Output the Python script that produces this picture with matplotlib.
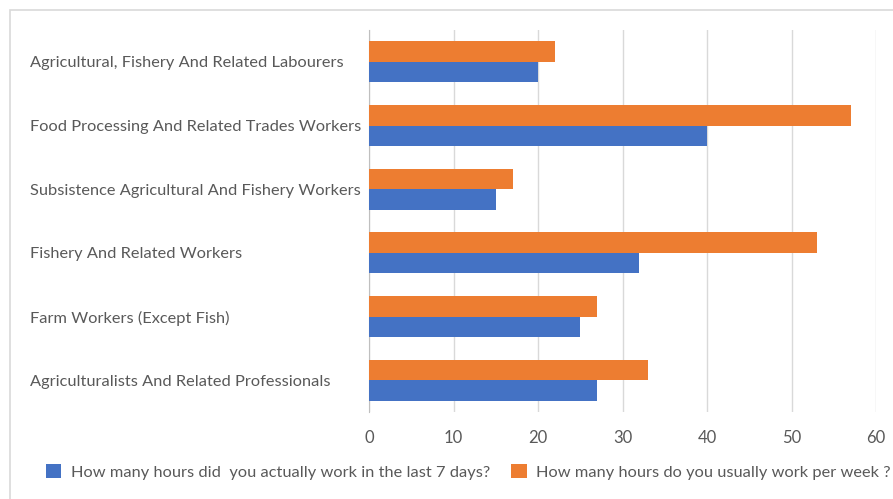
import numpy as np
import matplotlib.pyplot as plt
from matplotlib.patches import Rectangle

plt.rcParams['font.family'] = ['Lato', 'DejaVu Sans']

categories = [
    "Agriculturalists And Related Professionals",
    "Farm Workers (Except Fish)",
    "Fishery And Related Workers",
    "Subsistence Agricultural And Fishery Workers",
    "Food Processing And Related Trades Workers",
    "Agricultural, Fishery And Related Labourers",
]
actual_hours = [27, 25, 32, 15, 40, 20]
usual_hours = [33, 27, 53, 17, 57, 22]
series_names = [
    "How many hours did  you actually work in the last 7 days?",
    "How many hours do you usually work per week ?",
]
xticks = [0, 10, 20, 30, 40, 50, 60]

blue = "#4472C4"
orange = "#ED7D31"
text_color = "#595959"

W, H = 893, 499
fig = plt.figure(figsize=(W / 100, H / 100), dpi=100)
ax = fig.add_axes([369 / W, 1 - 412 / H, (876 - 369) / W, (412 - 30) / H])

y = np.arange(len(categories))
h = 0.32
ax.barh(y - h / 2, actual_hours, height=h, color=blue, label=series_names[0], zorder=3)
ax.barh(y + h / 2, usual_hours, height=h, color=orange, label=series_names[1], zorder=3)

ax.set_xlim(0, 60)
ax.set_ylim(-0.5, len(categories) - 0.5)
ax.set_xticks(xticks)
ax.set_xticklabels([str(t) for t in xticks])
ax.grid(axis='x', color='#D9D9D9', linewidth=1, zorder=0)
ax.tick_params(axis='x', length=0, pad=13, labelsize=12, labelcolor=text_color)

ax.set_yticks(y)
ax.set_yticklabels(categories, ha='left')
ax.tick_params(axis='y', length=0, pad=(369 - 30) * 0.72, labelsize=11.8, labelcolor=text_color)

for s in ['top', 'right', 'bottom']:
    ax.spines[s].set_visible(False)
ax.spines['left'].set_color('#BFBFBF')

# chart border
fig.patches.append(Rectangle((10 / W, -0.1), 1.2, 1 - 10 / H + 0.1,
                             transform=fig.transFigure, fill=False,
                             edgecolor='#D9D9D9', linewidth=1.2))

leg = fig.legend(loc='center left', bbox_to_anchor=(46 / W, 1 - 472 / H), ncol=2,
                 frameon=False, fontsize=11.8, handlelength=0.92, handleheight=0.92,
                 handletextpad=0.6, columnspacing=1.3, borderaxespad=0, borderpad=0)
for t in leg.get_texts():
    t.set_color(text_color)

fig.savefig("out.png", dpi=100)
